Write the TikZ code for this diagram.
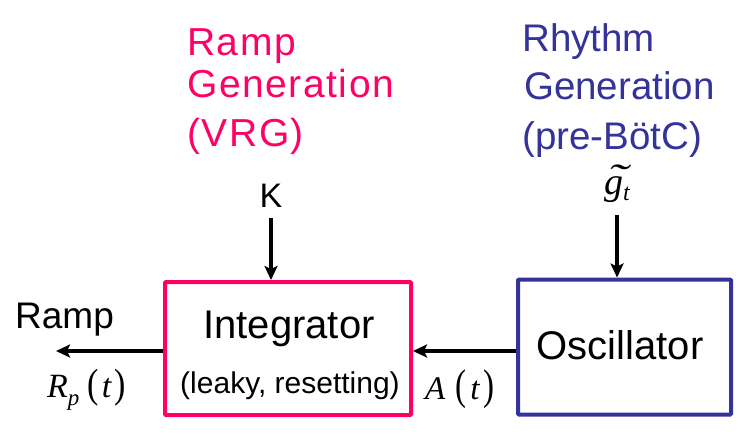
\documentclass[tikz,border=0pt]{standalone}
\usepackage{fontspec}
\setmainfont{Liberation Sans}
\newfontfamily\tnr{Liberation Serif}
\newfontfamily\spaced[LetterSpace=4]{Liberation Sans}
\usetikzlibrary{arrows.meta}
\definecolor{rampPink}{RGB}{255,0,102}
\definecolor{rhyBlue}{RGB}{51,51,153}
\newcommand\fs[1]{\fontsize{#1}{#1}\selectfont}
\begin{document}
\begin{tikzpicture}[x=1pt,y=-1pt,
  box/.style={draw, line width=4pt, rounded corners=1pt, inner sep=0pt},
  arr/.style={line width=3.2pt, -{Stealth[length=14pt,width=13pt,inset=3pt]}},
  lbl/.style={anchor=base, inner sep=0pt},
  lblw/.style={anchor=base west, inner sep=0pt},
  pinkt/.style={lblw, text=rampPink, font=\spaced\fs{39}},
  bluet/.style={lblw, text=rhyBlue, font=\fs{38.5}},
  mathlbl/.style={lblw, font=\tnr\itshape\fs{34}}]
\useasboundingbox (0,0) rectangle (750,434);

% boxes
\node[box, draw=rampPink, minimum width=246pt, minimum height=133pt] (integ) at (288,348.5) {};
\node[box, draw=rhyBlue, minimum width=213pt, minimum height=135pt] (osc) at (624.5,347) {};

% box texts
\node[lbl, font=\fs{40}] (integtxt) at (289,338) {Integrator};
\node[lbl, font=\fs{30}] (leaky) at (290,393) {(leaky, resetting)};
\node[lbl, font=\fs{40}] (osctxt) at (620,359) {Oscillator};

% titles
\node[pinkt] (p1) at (187,55) {Ramp};
\node[pinkt] (p2) at (187,97) {Generation};
\node[pinkt] (p3) at (187,146) {(VRG)};
\node[bluet] (b1) at (522,51) {Rhythm};
\node[bluet] (b2) at (524,99) {Generation};
\node[bluet] (b3) at (522,149) {(pre-BötC)};

% inputs
\node[lbl, font=\fs{34}] (K) at (271,207) {K};
\node[lblw, font=\tnr\itshape\fs{38}] (g) at (604,194)
  {\makebox[0pt][l]{\raisebox{4pt}{\hspace{3pt}\scalebox{1.6}[1]{\char"02DC}}}g\raisebox{-6pt}{\fs{24}t}};

% outputs / signals
\node[lblw, font=\fs{37}] (ramp) at (15,328) {Ramp};
\node[mathlbl] (rp) at (47,397)
  {R\raisebox{-8pt}{\fs{23}p}\hspace{8pt}{\upshape\scalebox{1}[1.2]{(}}\hspace{3pt}t\hspace{3pt}{\upshape\scalebox{1}[1.2]{)}}};
\node[mathlbl, font=\tnr\itshape\fs{33}] (at) at (425,399)
  {A\hspace{10pt}{\upshape\scalebox{1}[1.3]{(}}\hspace{4pt}t\hspace{4pt}{\upshape\scalebox{1}[1.3]{)}}};

% connectors
\coordinate (rampend) at (56,351);
\draw[arr] (osc.west |- 0,351) -- (integ.east |- 0,351);
\draw[arr] (integ.west |- 0,351) -- (rampend);
\draw[arr] ([yshift=-11pt]K.south) -- (K.south |- integ.north);
\draw[arr] ([yshift=-13pt]g.south) -- (g.south |- osc.north);
\end{tikzpicture}
\end{document}
